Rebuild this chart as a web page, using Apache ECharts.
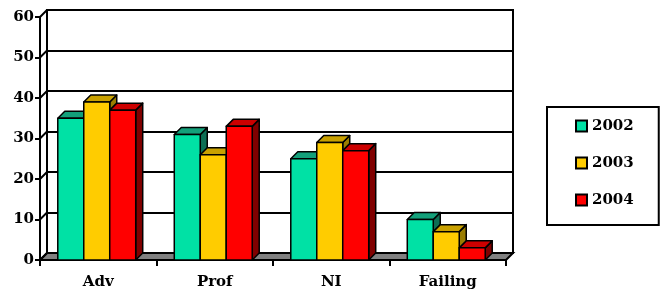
<!DOCTYPE html>
<html lang="en">
<head>
<meta charset="UTF-8">
<title>Results 2002-2004</title>
<script src="https://cdn.jsdelivr.net/npm/echarts@6/dist/echarts.min.js"></script>
</head>
<body style="margin:0; background:#fff">
<div id="chart" style="width:660px; height:293px"></div>
<script>
    // chart values
    let categories = ['Adv', 'Prof', 'NI', 'Failing'];
    let years = ['2002', '2003', '2004'];
    let y2002 = [35, 31, 25, 10];
    let y2003 = [39, 26, 29, 7];
    let y2004 = [37, 33, 27, 3];
    let yTicks = [0, 10, 20, 30, 40, 50, 60];

    // front, top, side colours for each year
    let faces = [
        ['#00E1A5', '#13A07A', '#0D6E54'],
        ['#FFCC00', '#C9A100', '#9A7D00'],
        ['#FF0000', '#CC0000', '#800000']
    ];
    let D = 7;        // depth of the 3d box in px
    let FONT = 'DejaVu Serif';

    function makeBar(k) {
        return function (params, api) {
            let cat = api.value(0);
            let val = api.value(1);
            let top = api.coord([cat, val]);
            let base = api.coord([cat, 0]);
            let band = api.size([1, 0])[0];
            let w = band * 0.223;
            let xl = top[0] - 1.5 * w + k * w - 1.5;
            let xr = xl + w;
            let yt = top[1], yb = base[1];
            let st = {stroke: '#000', lineWidth: 1.5, lineJoin: 'round'};
            return {
                type: 'group',
                children: [
                    {type: 'polygon', shape: {points: [[xr, yt], [xr + D, yt - D], [xr + D, yb - D], [xr, yb]]},
                        style: Object.assign({fill: faces[k][2]}, st)},
                    {type: 'polygon', shape: {points: [[xl, yt], [xl + D, yt - D], [xr + D, yt - D], [xr, yt]]},
                        style: Object.assign({fill: faces[k][1]}, st)},
                    {type: 'rect', shape: {x: xl, y: yt, width: w, height: yb - yt},
                        style: Object.assign({fill: faces[k][0]}, st)}
                ]
            };
        };
    }

    // left wall diagonals and the grey floor
    function renderFrame(params, api) {
        let cs = params.coordSys;
        let v = api.value(1);
        let y = api.coord([0, v])[1];
        let x0 = cs.x, x1 = cs.x + cs.width;
        let children = [];
        if (v === 0) {
            children.push({type: 'polygon',
                shape: {points: [[x0, y], [x0 + D, y - D], [x1 + D, y - D], [x1, y]]},
                style: {fill: '#808080', stroke: '#000', lineWidth: 2}});
        }
        children.push({type: 'line', shape: {x1: x0, y1: y, x2: x0 + D, y2: y - D},
            style: {stroke: '#000', lineWidth: 2}});
        return {type: 'group', children: children};
    }

    let allData = [y2002, y2003, y2004];
    let series = [{
        type: 'custom',
        name: 'frame',
        xAxisIndex: 0, yAxisIndex: 0,
        renderItem: renderFrame,
        data: yTicks.map(function (v) { return [0, v]; }),
        z: 1,
        silent: true
    }];
    years.forEach(function (yr, k) {
        series.push({
            type: 'custom',
            name: yr,
            xAxisIndex: 0, yAxisIndex: 0,
            renderItem: makeBar(k),
            itemStyle: {color: faces[k][0], borderColor: '#000', borderWidth: 1.5},
            data: allData[k].map(function (v, i) { return [i, v]; }),
            z: 3
        });
    });

    let chart = echarts.init(document.getElementById('chart'));
    chart.setOption({
        animation: false,
        grid: [
            {left: 40, right: 154, top: 17, bottom: 33},
            {left: 47, right: 147, top: 10, bottom: 40, show: true,
                borderColor: '#000', borderWidth: 2, backgroundColor: 'transparent', z: 0}
        ],
        xAxis: [
            {type: 'category', gridIndex: 0, data: categories,
                axisLine: {show: true, lineStyle: {color: '#000', width: 2}},
                axisTick: {show: true, length: 6, lineStyle: {color: '#000', width: 2}},
                axisLabel: {color: '#000', fontFamily: FONT, fontWeight: 'bold', fontSize: 15, margin: 15},
                splitLine: {show: false}},
            {type: 'category', gridIndex: 1, data: categories, show: false}
        ],
        yAxis: [
            {type: 'value', gridIndex: 0, min: 0, max: 60, interval: 10,
                axisLine: {show: true, lineStyle: {color: '#000', width: 2}},
                axisTick: {show: true, length: 5, lineStyle: {color: '#000', width: 2}},
                axisLabel: {color: '#000', fontFamily: FONT, fontWeight: 'bold', fontSize: 15, margin: 6,
                    padding: [2, 0, 0, 0]},
                splitLine: {show: false}},
            {type: 'value', gridIndex: 1, min: 0, max: 60, interval: 10,
                axisLine: {show: false}, axisTick: {show: false}, axisLabel: {show: false},
                splitLine: {show: true, lineStyle: {color: '#000', width: 2}}}
        ],
        legend: {
            data: years,
            orient: 'vertical',
            left: 547, top: 107,
            padding: [11, 25, 17, 28],
            itemGap: 21,
            itemWidth: 11, itemHeight: 11,
            icon: 'rect',
            borderColor: '#000', borderWidth: 2,
            textStyle: {color: '#000', fontFamily: FONT, fontWeight: 'bold', fontSize: 15, lineHeight: 16}
        },
        series: series
    });
</script>
</body>
</html>
